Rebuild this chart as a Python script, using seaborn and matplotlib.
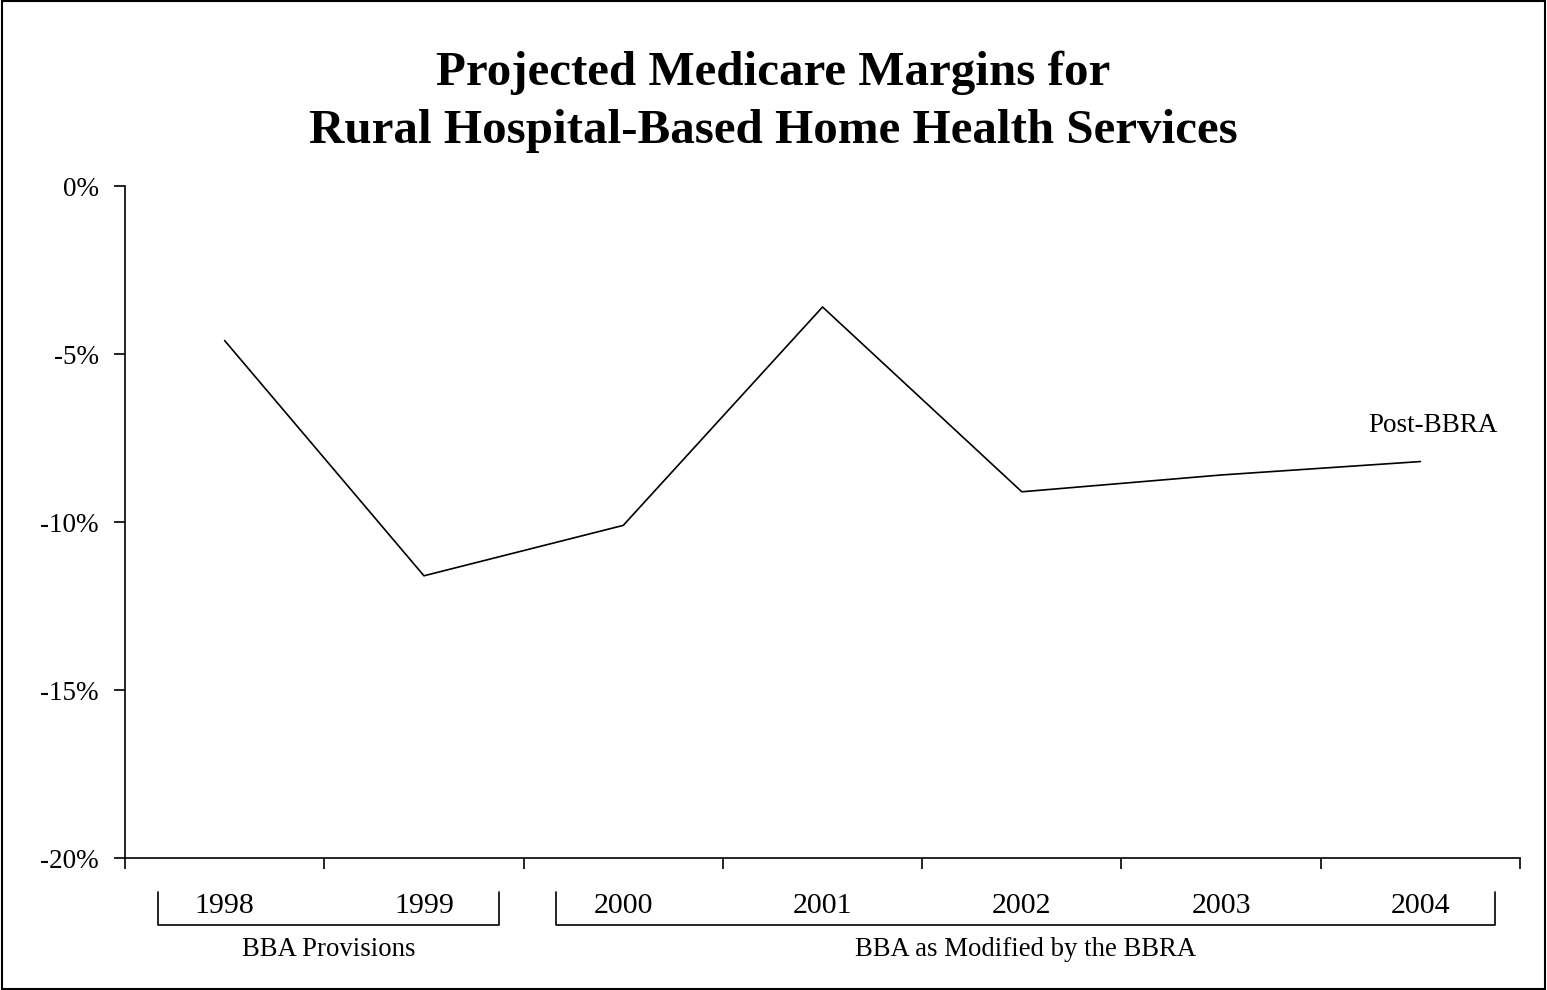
import seaborn as sns
import matplotlib.pyplot as plt
import pandas as pd
from matplotlib.lines import Line2D
from matplotlib.patches import Rectangle
from matplotlib.ticker import FixedLocator, FuncFormatter

sns.set_theme(style="white")
plt.rcParams["font.family"] = ["Liberation Serif", "DejaVu Serif"]

# data
years = ["1998", "1999", "2000", "2001", "2002", "2003", "2004"]
margins = [-4.6, -11.6, -10.1, -3.6, -9.1, -8.6, -8.2]
yticks = [0, -5, -10, -15, -20]
# (first year index, last year index, label)
groups = [(0, 1, "BBA Provisions"), (2, 6, "BBA as Modified by the BBRA")]
series_label = "Post-BBRA"

df = pd.DataFrame({"year": years, "margin": margins})

fig = plt.figure(figsize=(15.47, 9.9), dpi=100)
ax = fig.add_axes([0.0808, 0.1333, 0.9018, 0.6788])

sns.lineplot(data=df, x="year", y="margin", color="black", linewidth=1.2,
             sort=False, ax=ax)

ax.set_xlim(-0.5, len(years) - 0.5)
ax.set_ylim(-20, 0)
ax.set_xlabel("")
ax.set_ylabel("")

for side in ["top", "right"]:
    ax.spines[side].set_visible(False)
for side in ["left", "bottom"]:
    ax.spines[side].set_color("black")
    ax.spines[side].set_linewidth(1.2)

ax.yaxis.set_major_locator(FixedLocator(yticks))
ax.yaxis.set_major_formatter(FuncFormatter(lambda v, p: f"{v:.0f}%"))
ax.xaxis.set_major_locator(FixedLocator([i - 0.5 for i in range(len(years) + 1)]))
ax.set_xticklabels([])
ax.tick_params(axis="both", direction="out", length=8, width=1.2,
               color="black", left=True, bottom=True)
ax.tick_params(axis="y", labelsize=19.5, pad=11, labelcolor="black")

# year labels under the axis
trans = ax.get_xaxis_transform()
for i, y in enumerate(years):
    ax.text(i, -0.072, y, transform=trans, ha="center", va="center",
            fontsize=21.5, color="black")

# group brackets
for start, end, label in groups:
    x0 = start - 0.5 + 0.165
    x1 = end + 0.5 - 0.125
    ax.add_line(Line2D([x0, x0, x1, x1], [-0.0506, -0.0997, -0.0997, -0.0506],
                       transform=trans, color="black", linewidth=1.2,
                       clip_on=False))
    ax.text((x0 + x1) / 2, -0.1355, label, transform=trans, ha="center",
            va="center", fontsize=19.3, color="black")

# series label at the end of the line
ax.annotate(series_label, (len(years) - 1, margins[-1]), xytext=(9, 26),
            textcoords="offset points", ha="center", va="center",
            fontsize=19.5, color="black")

fig.text(0.5, 0.897, "Projected Medicare Margins for\nRural Hospital-Based Home Health Services",
         ha="center", va="center", fontsize=35.3, fontweight="bold",
         linespacing=1.4, color="black")

fig.patches.append(Rectangle((0.001, 0.001), 0.998, 0.998, transform=fig.transFigure,
                             fill=False, edgecolor="black", linewidth=1.5))

fig.savefig("out.png", dpi=100)
